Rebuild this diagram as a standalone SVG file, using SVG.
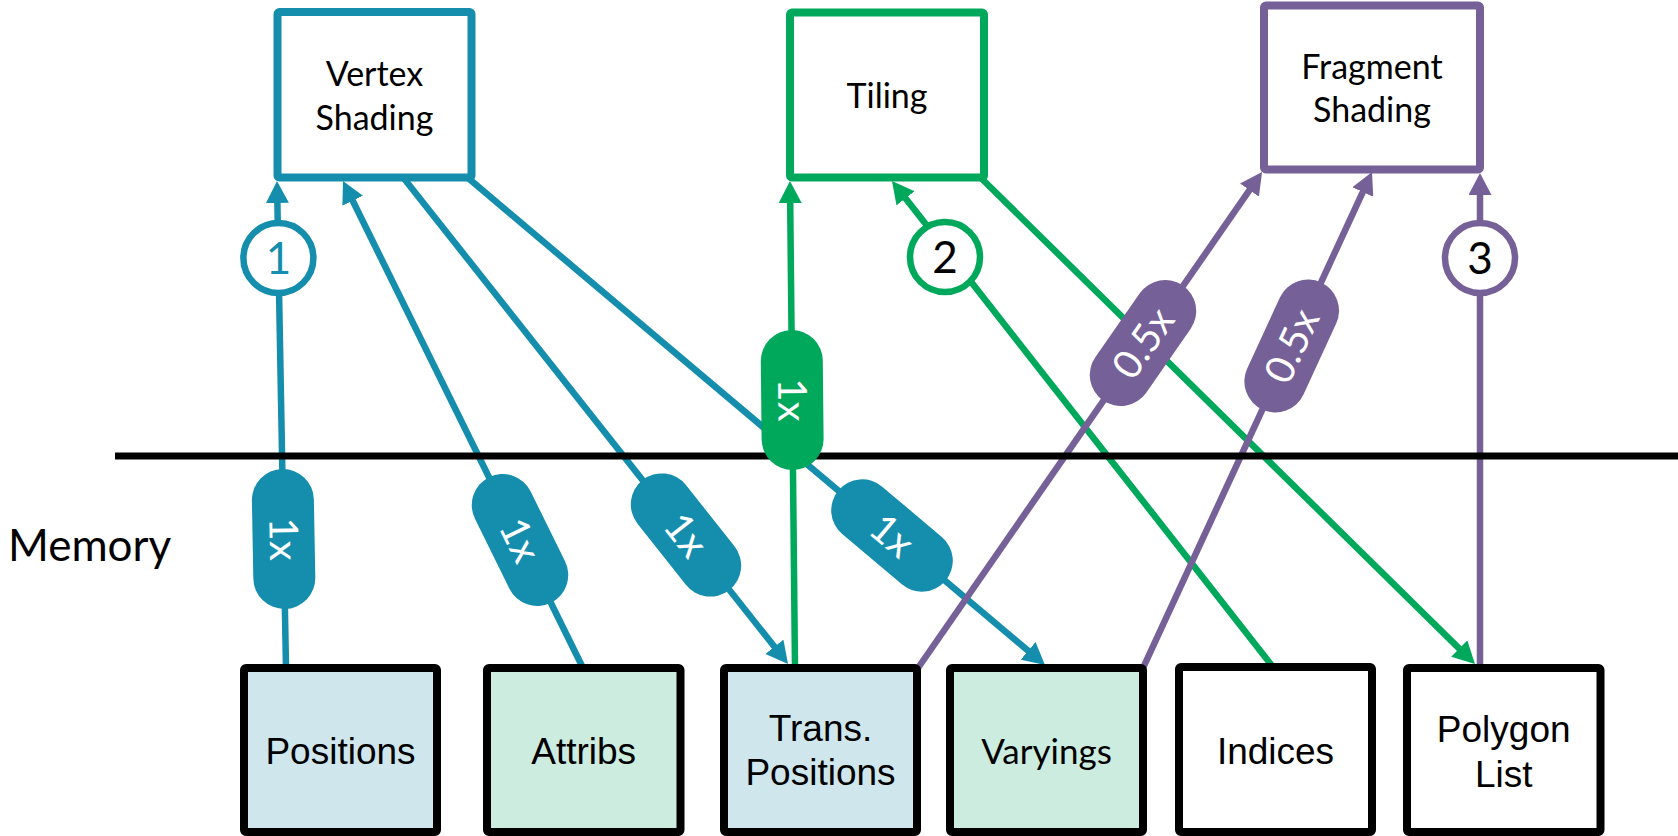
<svg xmlns="http://www.w3.org/2000/svg" width="1678" height="836" viewBox="0 0 1678 836">
  <style>
    .stage { fill: #ffffff; stroke-width: 8; stroke-linejoin: round; }
    .buf { stroke: #000000; stroke-width: 8; stroke-linejoin: round; }
    .teal { stroke: #158EAE; }
    .green { stroke: #00A85C; }
    .purple { stroke: #766098; }
    .conn { fill: none; stroke-width: 6.5; }
    .pill-teal { fill: #158EAE; }
    .pill-green { fill: #00A85C; }
    .pill-purple { fill: #766098; }
    .ring { fill: #ffffff; stroke-width: 6.5; }
    .gill { font-family: Lato, "Open Sans", sans-serif; }
    .arial { font-family: "Liberation Sans", Arial, sans-serif; font-size: 37px; fill: #000000; }
    .stagetxt { font-size: 34px; fill: #000000; text-anchor: middle; }
    .pilltxt { font-size: 40px; fill: #ffffff; text-anchor: middle; }
    .ringtxt { font-size: 44px; text-anchor: middle; }
  </style>
  <defs>
    <marker id="ah-teal" markerUnits="userSpaceOnUse" markerWidth="22" markerHeight="23" refX="10" refY="11.5" orient="auto">
      <path d="M0,0 L22,11.5 L0,23 Z" fill="#158EAE"/>
    </marker>
    <marker id="ah-green" markerUnits="userSpaceOnUse" markerWidth="22" markerHeight="23" refX="10" refY="11.5" orient="auto">
      <path d="M0,0 L22,11.5 L0,23 Z" fill="#00A85C"/>
    </marker>
    <marker id="ah-purple" markerUnits="userSpaceOnUse" markerWidth="22" markerHeight="23" refX="10" refY="11.5" orient="auto">
      <path d="M0,0 L22,11.5 L0,23 Z" fill="#766098"/>
    </marker>
  </defs>

  <!-- connectors -->
  <g id="connectors">
    <line class="conn teal" x1="286" y1="668" x2="277.2" y2="193" marker-end="url(#ah-teal)"/>
    <line class="conn teal" x1="583" y1="668" x2="348.3" y2="191.8" marker-end="url(#ah-teal)"/>
    <line class="conn teal" x1="403.2" y1="177.5" x2="780.6" y2="654.6" marker-end="url(#ah-teal)"/>
    <line class="conn teal" x1="467.5" y1="177.6" x2="1035.8" y2="657.3" marker-end="url(#ah-teal)"/>
    <line class="conn green" x1="795" y1="668" x2="790.1" y2="193" marker-end="url(#ah-green)"/>
    <line class="conn green" x1="1273" y1="667" x2="899.4" y2="190.4" marker-end="url(#ah-green)"/>
    <line class="conn green" x1="981" y1="178" x2="1466.4" y2="655.6" marker-end="url(#ah-green)"/>
    <line class="conn purple" x1="918" y1="668" x2="1255.2" y2="181.9" marker-end="url(#ah-purple)"/>
    <line class="conn purple" x1="1143" y1="668" x2="1367" y2="182.9" marker-end="url(#ah-purple)"/>
    <line class="conn purple" x1="1480" y1="668" x2="1480" y2="185" marker-end="url(#ah-purple)"/>
  </g>

  <!-- on-chip / memory boundary -->
  <line id="memory-boundary" x1="115" y1="456" x2="1678" y2="456" stroke="#000000" stroke-width="7"/>
  <text id="memory-label" class="gill" x="8" y="561" font-size="44" fill="#000000">Memory</text>

  <!-- bandwidth pills on connectors -->
  <g id="connector-labels" class="gill">
    <g transform="translate(283.6,539) rotate(88.94)">
      <rect class="pill-teal" x="-70" y="-31" width="140" height="62" rx="31"/>
      <text class="pilltxt" x="0" y="14">1x</text>
    </g>
    <g transform="translate(520,540) rotate(63.77)">
      <rect class="pill-teal" x="-70" y="-31" width="140" height="62" rx="31"/>
      <text class="pilltxt" x="0" y="14">1x</text>
    </g>
    <g transform="translate(686,535) rotate(51.66)">
      <rect class="pill-teal" x="-70" y="-31" width="140" height="62" rx="31"/>
      <text class="pilltxt" x="0" y="14">1x</text>
    </g>
    <g transform="translate(892,535.5) rotate(40.16)">
      <rect class="pill-teal" x="-70" y="-31" width="140" height="62" rx="31"/>
      <text class="pilltxt" x="0" y="14">1x</text>
    </g>
    <g transform="translate(792.2,400) rotate(89.41)">
      <rect class="pill-green" x="-70" y="-31" width="140" height="62" rx="31"/>
      <text class="pilltxt" x="0" y="14">1x</text>
    </g>
    <g transform="translate(1143,343) rotate(-55.25)">
      <rect class="pill-purple" x="-70" y="-31" width="140" height="62" rx="31"/>
      <text class="pilltxt" x="0" y="14">0.5x</text>
    </g>
    <g transform="translate(1291.7,346) rotate(-65.22)">
      <rect class="pill-purple" x="-70" y="-31" width="140" height="62" rx="31"/>
      <text class="pilltxt" x="0" y="14">0.5x</text>
    </g>

    <!-- pass numbers -->
    <circle class="ring teal" cx="278.4" cy="258" r="35"/>
    <text class="ringtxt" x="278.4" y="274" fill="#158EAE">1</text>
    <circle class="ring green" cx="945" cy="257" r="35"/>
    <text class="ringtxt" x="945" y="273" fill="#000000">2</text>
    <circle class="ring purple" cx="1480" cy="258" r="35"/>
    <text class="ringtxt" x="1480" y="274" fill="#000000">3</text>
  </g>

  <!-- GPU stages -->
  <g id="vertex-shading" class="gill">
    <rect class="stage teal" x="277.5" y="12" width="194" height="165.5" rx="2"/>
    <text class="stagetxt" x="374.5" y="86">Vertex</text>
    <text class="stagetxt" x="374.5" y="130">Shading</text>
  </g>
  <g id="tiling" class="gill">
    <rect class="stage green" x="790" y="12.5" width="194" height="165" rx="2"/>
    <text class="stagetxt" x="887" y="108">Tiling</text>
  </g>
  <g id="fragment-shading" class="gill">
    <rect class="stage purple" x="1264" y="5.5" width="216" height="164" rx="2"/>
    <text class="stagetxt" x="1372" y="79">Fragment</text>
    <text class="stagetxt" x="1372" y="122">Shading</text>
  </g>

  <!-- memory buffers -->
  <g id="positions">
    <rect class="buf" x="244" y="668" width="193" height="164" rx="2" fill="#CFE7EC"/>
    <text class="arial" x="340.5" y="764" text-anchor="middle">Positions</text>
  </g>
  <g id="attribs">
    <rect class="buf" x="487" y="668" width="193.5" height="164" rx="2" fill="#CCECDF"/>
    <text class="arial" x="583.7" y="764" text-anchor="middle">Attribs</text>
  </g>
  <g id="trans-positions">
    <rect class="buf" x="724" y="668" width="193" height="164" rx="2" fill="#CFE7EC"/>
    <text class="arial" x="820.5" y="741" text-anchor="middle">Trans.</text>
    <text class="arial" x="820.5" y="785" text-anchor="middle">Positions</text>
  </g>
  <g id="varyings">
    <rect class="buf" x="950" y="668" width="193" height="164" rx="2" fill="#CCECDF"/>
    <text class="gill" x="1046.5" y="764" font-size="35" fill="#000000" text-anchor="middle">Varyings</text>
  </g>
  <g id="indices">
    <rect class="buf" x="1179" y="667" width="193" height="165" rx="2" fill="#ffffff"/>
    <text class="arial" x="1275.5" y="764" text-anchor="middle">Indices</text>
  </g>
  <g id="polygon-list">
    <rect class="buf" x="1407" y="668" width="193.5" height="164" rx="2" fill="#ffffff"/>
    <text class="arial" x="1503.7" y="742" text-anchor="middle">Polygon</text>
    <text class="arial" x="1503.7" y="787" text-anchor="middle">List</text>
  </g>
</svg>
